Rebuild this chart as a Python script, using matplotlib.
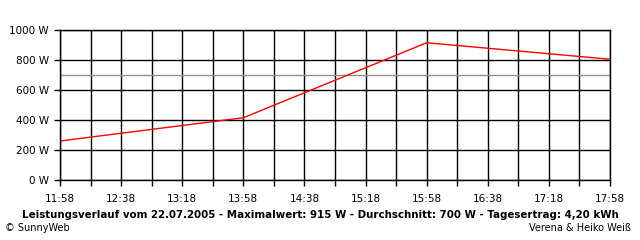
import matplotlib
matplotlib.use("Agg")
import matplotlib.pyplot as plt

# Data
times = ["11:58", "13:58", "15:58", "17:58"]
power = [260, 415, 915, 805]
average = 700
tick_labels = ["11:58", "12:38", "13:18", "13:58", "14:38", "15:18", "15:58", "16:38", "17:18", "17:58"]
y_ticks = [0, 200, 400, 600, 800, 1000]

title = "Leistungsverlauf vom 22.07.2005 - Maximalwert: 915 W - Durchschnitt: 700 W - Tagesertrag: 4,20 kWh"


def to_minutes(t: str) -> int:
	h, m = t.split(":")
	return int(h) * 60 + int(m)


start = to_minutes(times[0])
x = [to_minutes(t) - start for t in times]
x_end = to_minutes(tick_labels[-1]) - start

plt.rcParams["font.family"] = ["DejaVu Sans"]

fig = plt.figure(figsize=(6.4, 2.4), dpi=100)
ax = fig.add_axes([60 / 640, 60 / 240, 550 / 640, 150 / 240])

# Grid every 20 minutes, labels every 40 minutes
minor = list(range(0, x_end + 1, 20))
ax.set_xticks(minor)
labels = []
lab_pos = {to_minutes(t) - start: t for t in tick_labels}
for m in minor:
	labels.append(lab_pos.get(m, ""))
ax.set_xticklabels(labels)
ax.set_yticks(y_ticks)
ax.set_yticklabels([f"{v} W" for v in y_ticks])

ax.set_xlim(0, x_end)
ax.set_ylim(0, 1000)
ax.grid(True, color="black", linewidth=1.0)
ax.set_axisbelow(True)

ax.axhline(average, color="#909090", linewidth=1.0)
ax.plot(x, power, color="red", linewidth=1.0)

for s in ax.spines.values():
	s.set_linewidth(1.0)
ax.tick_params(axis="both", length=4, width=1.0, labelsize=7.5, colors="black")
ax.tick_params(axis="x", pad=6)
ax.tick_params(axis="y", pad=4)

fig.text(0.5, 25 / 240, title, ha="center", va="center", fontsize=7.4, fontweight="bold")
fig.text(5 / 640, 12 / 240, "\u00a9 SunnyWeb", ha="left", va="center", fontsize=7)
fig.text(631 / 640, 12 / 240, "Verena & Heiko Wei\u00df", ha="right", va="center", fontsize=7)

fig.savefig("out.png", dpi=100)
